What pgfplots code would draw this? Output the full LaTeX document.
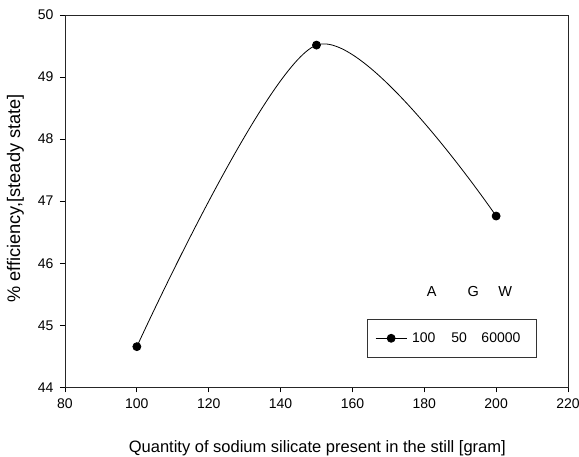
\documentclass[border=0pt]{standalone}
\usepackage{fontspec}
\setmainfont{Liberation Sans}
\usepackage{pgfplots}
\pgfplotsset{compat=1.18}

\begin{document}
\begin{tikzpicture}
\begin{axis}[
  scale only axis,
  width=503pt, height=372.3pt,
  xmin=80, xmax=220, ymin=44, ymax=50,
  xtick={80,100,...,220}, ytick={44,45,...,50},
  tick align=outside, major tick length=5pt,
  xtick pos=bottom, ytick pos=left,
  minor tick num=0,
  axis line style={line width=0.9pt, black!85},
  tick style={line width=0.8pt, black},
  /pgf/number format/assume math mode=true,
  /pgf/number format/1000 sep={},
  ticklabel style={font=\fontsize{14}{16}\selectfont},
  xticklabel style={yshift=-2.5pt},
  yticklabel style={xshift=-3pt},
  xlabel={Quantity of sodium silicate present in the still [gram]},
  ylabel={\% efficiency,[steady state]},
  xlabel style={font=\fontsize{16.5}{18}\selectfont, at={(axis description cs:0.5016,-0.1738)}, anchor=base},
  ylabel style={font=\fontsize{18.2}{20}\selectfont, at={(axis description cs:-0.0984,0.507)}, anchor=center, rotate=0},
  legend style={draw=none, fill=none, font=\fontsize{14}{16}\selectfont,
    at={(axis cs:166.3,44.79)}, anchor=west, inner sep=0pt},
  legend image code/.code={%
    \draw[#1, mark repeat=2, mark phase=2] plot coordinates {(0pt,0pt) (15.5pt,0pt) (31pt,0pt)};},
  clip=false,
]
\addplot[black, line width=0.8pt, smooth, mark=*, mark size=4pt,
  mark options={solid, fill=black}]
  coordinates {(100,44.655) (150,49.515) (200,46.76)};
\addlegendentry{\hspace{3pt}100\hspace{16pt}50\hspace{14.5pt}60000}

% legend frame
\draw[line width=0.9pt, black!80] (axis cs:164.1,44.48) rectangle (axis cs:211.1,45.10);

% column headings above the legend entry
\node[font=\fontsize{14.5}{16}\selectfont] at (axis cs:182.1,45.55) {A};
\node[font=\fontsize{14.5}{16}\selectfont] at (axis cs:193.6,45.55) {G};
\node[font=\fontsize{14.5}{16}\selectfont] at (axis cs:202.5,45.55) {W};
\end{axis}
\pgfresetboundingbox
\path[use as bounding box] (-65pt,-68.7pt) rectangle (514pt,387.3pt);
\end{tikzpicture}
\end{document}
